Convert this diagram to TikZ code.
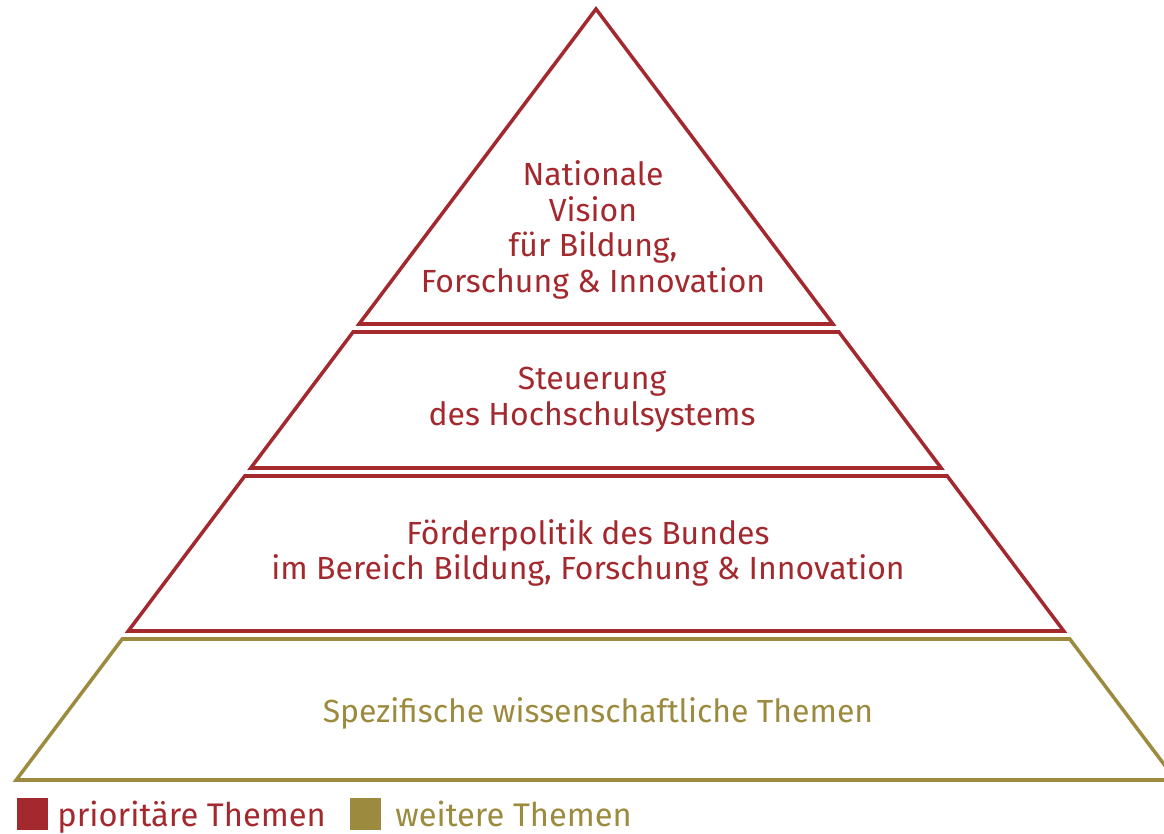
\documentclass[tikz,border=0pt]{standalone}
\usepackage{fontspec}
\setmainfont{Fira Sans}
\definecolor{prired}{HTML}{A3292F}
\definecolor{olive}{HTML}{9C8B3E}
\begin{document}
\begin{tikzpicture}[x=0.02cm,y=-0.02cm,
  lvl/.style={line width=2pt,line join=miter,miter limit=20},
  lab/.style={font=\fontsize{18.2}{20.4}\selectfont,align=center,inner sep=0pt},
  leg/.style={font=\fontsize{18.6}{20.4}\selectfont,anchor=base west,inner sep=0pt}]
\useasboundingbox (0,0) rectangle (1164,834);
\begin{scope}
\clip (0,0) rectangle (1164,834);
% level 1: apex triangle
\draw[lvl,prired] (596,9) -- (832.9,324) -- (359.1,324) -- cycle;
% level 2
\draw[lvl,prired] (353.1,332) -- (838.9,332) -- (941.2,468) -- (250.8,468) -- cycle;
% level 3
\draw[lvl,prired] (244.8,476) -- (947.2,476) -- (1063.7,631) -- (128.3,631) -- cycle;
% level 4
\draw[lvl,olive] (122.2,639) -- (1069.8,639) -- (1175.8,780) -- (16.2,780) -- cycle;
\end{scope}
\node[lab,text=prired] (t1) at (593,230) {Nationale\\Vision\\für Bildung,\\Forschung \& Innovation};
\node[lab,text=prired] (t2) at (592,400) {Steuerung\\des Hochschulsystems};
\node[lab,text=prired] (t3) at (588,553) {Förderpolitik des Bundes\\im Bereich Bildung, Forschung \& Innovation};
\node[lab,text=olive] (t4) at (598,713) {Spezifische wissenschaftliche Themen};
% legend
\fill[prired] (17,798) rectangle (48,830);
\node[leg,text=prired] (l1) at (57,826) {prioritäre Themen};
\fill[olive] (350,798) rectangle (381,830);
\node[leg,text=olive] (l2) at (395,826) {weitere Themen};
\end{tikzpicture}
\end{document}
